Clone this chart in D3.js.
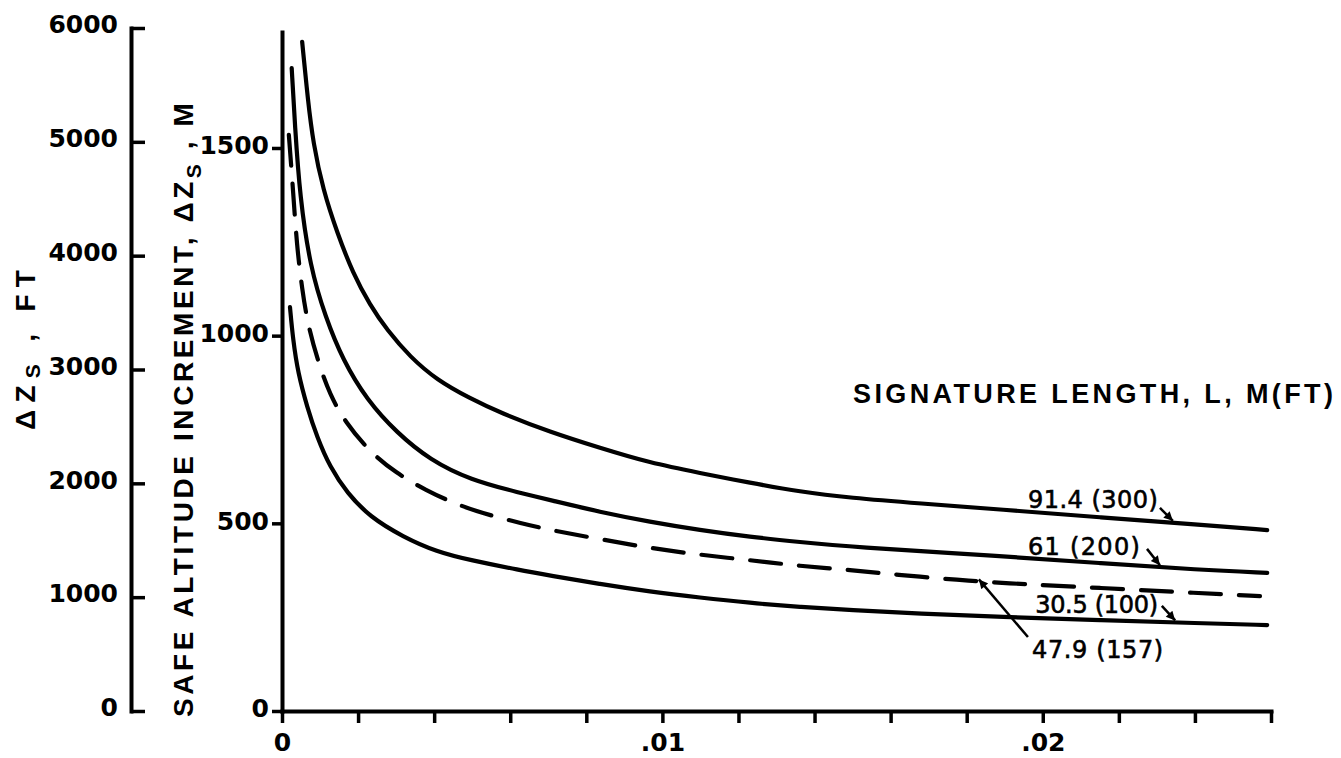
<!DOCTYPE html>
<html>
<head>
<meta charset="utf-8">
<script src="https://cdn.jsdelivr.net/npm/d3@7"></script>
<style>
  html, body { margin: 0; padding: 0; background: #ffffff; }
  svg { display: block; }
</style>
</head>
<body>
<svg id="chart" width="1341" height="758"></svg>
<script>
// ---- Data: safe altitude increment (m) against the horizontal ratio ----
// L = 91.4 m (300 ft)
const ratio300 = [0.00053, 0.00068, 0.00082, 0.00108, 0.00145, 0.00187, 0.00231, 0.00276, 0.00337,
                  0.00407, 0.00494, 0.00573, 0.00705, 0.00836, 0.00967, 0.01099, 0.0123, 0.01362,
                  0.01493, 0.01677, 0.01888, 0.0215, 0.02413, 0.0259];
const alt300 = [1783, 1628, 1513, 1388, 1274, 1165, 1082, 1015, 943,
                882, 833, 795, 743, 701, 661, 634, 608, 584,
                568, 553, 537, 516, 496, 482];

// L = 61 m (200 ft)
const ratio200 = [0.000255, 0.00034, 0.00047, 0.00074, 0.00114, 0.0016, 0.00223, 0.00302, 0.00389,
                  0.00494, 0.00626, 0.00705, 0.00836, 0.00967, 0.01099, 0.0123, 0.01362, 0.01493,
                  0.01888, 0.0215, 0.02413, 0.0259];
const alt200 = [1713, 1560, 1370, 1183, 1050, 935, 829, 741, 669,
                616, 581, 562, 530, 504, 482, 464, 450, 437,
                413, 394, 376, 368];

// L = 47.9 m (157 ft), dashed
const ratio157 = [0.00018, 0.00021, 0.00029, 0.00039, 0.00053, 0.00068, 0.00095, 0.00126, 0.00166, 0.00231,
                  0.003, 0.00376, 0.00468, 0.00552, 0.00626, 0.00705, 0.00836, 0.00967, 0.01099,
                  0.0123, 0.01362, 0.01493, 0.01625, 0.01782, 0.01888, 0.0215, 0.02413, 0.02571];
const alt157 = [1535, 1495, 1388, 1240, 1122, 1029, 930, 842, 770, 690,
                634, 589, 546, 520, 501, 482, 458, 434, 416,
                402, 386, 376, 362, 349, 341, 328, 314, 306];

// L = 30.5 m (100 ft)
const ratio100 = [0.00021, 0.00029, 0.00042, 0.00066, 0.00092, 0.00126, 0.00171, 0.00231, 0.00318,
                  0.00407, 0.00494, 0.00626, 0.00705, 0.00836, 0.00967, 0.01099, 0.0123, 0.01362,
                  0.01493, 0.01677, 0.01888, 0.0215, 0.02413, 0.0259];
const alt100 = [1076, 989, 901, 810, 730, 650, 581, 517, 464,
                424, 402, 375, 361, 338, 318, 302, 288, 277,
                269, 259, 251, 242, 234, 229];

// ---- Axis ticks and labels ----
const ftTicks = [0, 1000, 2000, 3000, 4000, 5000, 6000];
const mTicks = [0, 500, 1000, 1500];
const xTickStep = 0.002;
const xTickCount = 14;
const xLabelValues = [0, 0.01, 0.02];
const xLabelTexts = ["0", ".01", ".02"];

// ---- Curve annotations (label anchor, arrow tail, arrow tip along each curve) ----
const curveNames = ["91.4 (300)", "61 (200)", "30.5 (100)", "47.9 (157)"];
const labelRatio = [0.01961, 0.01961, 0.0198, 0.01972];
const labelAlt = [541, 416, 261, 141];
const labelWidth = [130, 112, 123, 131];
const tailRatio = [0.02308, 0.02274, 0.02313, 0.01961];
const tailAlt = [541, 432, 280, 197];
const tipRatio = [0.02342, 0.02308, 0.02348, 0.01832];

// ---- Scales ----
const svg = d3.select("#chart");
const xScale = d3.scaleLinear().domain([0, 0.026]).range([282, 1271]);
const mScale = d3.scaleLinear().domain([0, 1809]).range([711, 32]);
const ftScale = d3.scaleLinear().domain([0, 6000]).range([711, 28]);

const INK = "#000";
const tickFont = "'DejaVu Sans', sans-serif";
const titleFont = "'Liberation Sans', Arial, sans-serif";

function fitWidth(sel, target) {
  const node = sel.node();
  const n = node.getNumberOfChars();
  const w = node.getComputedTextLength();
  sel.attr("letter-spacing", ((target - w) / Math.max(1, n - 1)).toFixed(2));
}

// ---- Curves ----
const line = d3.line()
  .x(d => xScale(d[0]))
  .y(d => mScale(d[1]))
  .curve(d3.curveBasis);

const series = [
  { xs: ratio300, ys: alt300, dash: null },
  { xs: ratio200, ys: alt200, dash: null },
  { xs: ratio100, ys: alt100, dash: null },
  { xs: ratio157, ys: alt157, dash: "31,18" }
];

const curveG = svg.append("g").attr("fill", "none").attr("stroke", INK);
series.forEach(s => {
  curveG.append("path")
    .attr("d", line(d3.zip(s.xs, s.ys)))
    .attr("stroke-width", 4.2)
    .attr("stroke-linecap", "round")
    .attr("stroke-linejoin", "round")
    .attr("stroke-dasharray", s.dash);
});

// ---- Feet axis (outer left) ----
const ftAxis = svg.append("g")
  .attr("transform", "translate(131,0)")
  .call(d3.axisRight(ftScale).tickValues(ftTicks).tickSizeInner(14).tickSizeOuter(0).tickFormat(d3.format("d")));
ftAxis.selectAll("text")
  .attr("x", -13).attr("y", -4).attr("dy", "0.35em")
  .attr("text-anchor", "end");

// ---- Meter axis ----
const mAxis = svg.append("g")
  .attr("transform", "translate(282,0)")
  .call(d3.axisLeft(mScale).tickValues(mTicks).tickSizeInner(10).tickSizeOuter(0).tickPadding(3).tickFormat(d3.format("d")));
mAxis.selectAll("text").attr("y", -3).attr("dy", "0.35em");

// ---- Horizontal axis ----
const xAxis = svg.append("g")
  .attr("transform", `translate(0,${mScale(0)})`)
  .call(d3.axisBottom(xScale)
    .tickValues(d3.range(xTickCount).map(i => i * xTickStep))
    .tickSizeInner(12).tickSizeOuter(0).tickPadding(10)
    .tickFormat(d => {
      const k = xLabelValues.findIndex(v => Math.abs(v - d) < 1e-9);
      return k >= 0 ? xLabelTexts[k] : "";
    }));

[ftAxis, mAxis, xAxis].forEach(g => {
  g.select(".domain").attr("stroke", INK).attr("stroke-width", 4).attr("stroke-linecap", "square");
  g.selectAll(".tick line").attr("stroke", INK).attr("stroke-width", 3.5);
  g.selectAll("text")
    .attr("fill", INK)
    .style("font-family", tickFont)
    .style("font-weight", "bold")
    .style("font-size", "25px");
});

// ---- Axis titles ----
const ftTitle = svg.append("text")
  .attr("transform", "translate(35,430) rotate(-90)")
  .style("font-family", titleFont).style("font-weight", "bold").style("font-size", "28px")
  .attr("fill", INK);
ftTitle.append("tspan").text("\u0394Z");
ftTitle.append("tspan").attr("dy", 5).style("font-size", "21px").text("S");
ftTitle.append("tspan").attr("dy", -5).text(" , FT");
fitWidth(ftTitle, 160);

const mTitle = svg.append("text")
  .attr("transform", "translate(193,717) rotate(-90)")
  .style("font-family", titleFont).style("font-weight", "bold").style("font-size", "28px")
  .attr("fill", INK);
mTitle.append("tspan").text("SAFE  ALTITUDE  INCREMENT, \u0394Z");
mTitle.append("tspan").attr("dy", 8).style("font-size", "21px").text("S");
mTitle.append("tspan").attr("dy", -8).text(" , M");
fitWidth(mTitle, 614);

const sigTitle = svg.append("text")
  .attr("x", 853).attr("y", 403)
  .style("font-family", titleFont).style("font-weight", "bold").style("font-size", "27px")
  .attr("fill", INK)
  .text("SIGNATURE  LENGTH,  L,  M(FT)");
fitWidth(sigTitle, 480);

// ---- Curve labels with arrows ----
const defs = svg.append("defs");
defs.append("marker")
  .attr("id", "arrowHead")
  .attr("viewBox", "0 0 10 10")
  .attr("refX", 10).attr("refY", 5)
  .attr("markerWidth", 11).attr("markerHeight", 9)
  .attr("markerUnits", "userSpaceOnUse")
  .attr("orient", "auto")
  .append("path").attr("d", "M0,0 L10,5 L0,10 Z").attr("fill", INK);

const tipSeries = [
  { xs: ratio300, ys: alt300 },
  { xs: ratio200, ys: alt200 },
  { xs: ratio100, ys: alt100 },
  { xs: ratio157, ys: alt157 }
];

const annG = svg.append("g");
curveNames.forEach((name, i) => {
  const t = annG.append("text")
    .attr("x", xScale(labelRatio[i]))
    .attr("y", mScale(labelAlt[i]))
    .style("font-family", tickFont)
    .style("font-size", "24px")
    .attr("fill", INK)
    .attr("stroke", INK).attr("stroke-width", 0.6)
    .text(name);
  fitWidth(t, labelWidth[i]);
  const onCurve = d3.scaleLinear().domain(tipSeries[i].xs).range(tipSeries[i].ys);
  annG.append("line")
    .attr("x1", xScale(tailRatio[i]))
    .attr("y1", mScale(tailAlt[i]))
    .attr("x2", xScale(tipRatio[i]))
    .attr("y2", mScale(onCurve(tipRatio[i])) - 2)
    .attr("stroke", INK)
    .attr("stroke-width", 2.5)
    .attr("marker-end", "url(#arrowHead)");
});
</script>
</body>
</html>
